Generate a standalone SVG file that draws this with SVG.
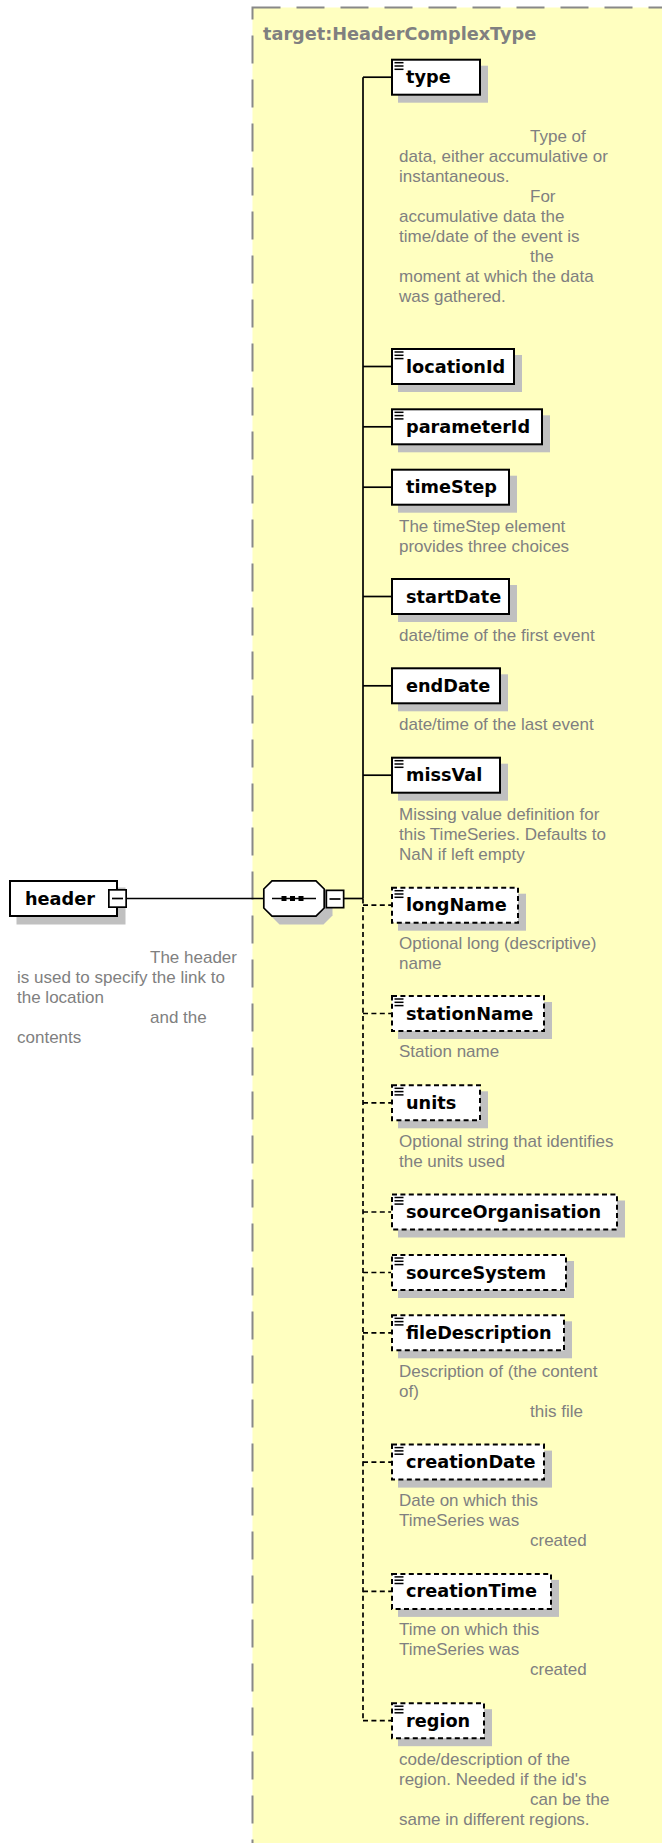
<svg xmlns="http://www.w3.org/2000/svg" xmlns:xlink="http://www.w3.org/1999/xlink" width="662" height="1843" viewBox="0 0 662 1843">
  <style>
    .frame{fill:#FFFFC0;stroke:#888888;stroke-width:2;stroke-dasharray:28 16}
    .title{font-family:"DejaVu Sans",Verdana,sans-serif;font-weight:bold;font-size:17.7px;fill:#808080}
    .shadow{fill:#C0C0C0}
    .box{fill:#FFFFFF;stroke:#000000;stroke-width:2}
    .opt{stroke-dasharray:5 3.4}
    .name{font-family:"DejaVu Sans",Verdana,sans-serif;font-weight:bold;font-size:17.7px;fill:#000000}
    .doc{font-family:"Liberation Sans",Arial,sans-serif;font-size:17px;fill:#808080}
    .line{fill:none;stroke:#000000;stroke-width:1.7}
    .dash{stroke-dasharray:5 3.4}
    .ann{stroke:#000000;stroke-width:1.5}
  </style>
  <defs>
    <!-- annotation marker in the top-left corner of documented elements -->
    <g id="ann">
      <line class="ann" x1="3.5" y1="4" x2="12.5" y2="4"/>
      <line class="ann" x1="3.5" y1="7.3" x2="12.5" y2="7.3"/>
      <line class="ann" x1="3.5" y1="10.6" x2="12.5" y2="10.6"/>
    </g>
    <!-- collapse button -->
    <g id="minus">
      <rect x="0.85" y="0.85" width="17.3" height="17.3" fill="#FFFFFF" stroke="#000000" stroke-width="1.7"/>
      <line x1="4" y1="9.5" x2="15" y2="9.5" stroke="#000000" stroke-width="1.7"/>
    </g>
  </defs>

  <!-- complex type frame -->
  <g id="complexType">
    <rect class="frame" x="252.5" y="7.5" width="460" height="1900"/>
    <text class="title" x="263" y="39.5">target:HeaderComplexType</text>
  </g>

  <!-- connectors -->
  <g id="connectors">
    <path class="line" d="M127,898.5 H263"/>
    <path class="line" d="M344,898.5 H363"/>
    <path class="line" d="M363,77.2 V898.5"/>
    <path class="line" d="M363,77.2 H391"/>
    <path class="line" d="M363,366.5 H391"/>
    <path class="line" d="M363,426.8 H391"/>
    <path class="line" d="M363,487.2 H391"/>
    <path class="line" d="M363,596.5 H391"/>
    <path class="line" d="M363,685.8 H391"/>
    <path class="line" d="M363,775.2 H391"/>
    <path class="line dash" d="M363,898.5 V1720.7"/>
    <path class="line dash" d="M363,905.2 H391"/>
    <path class="line dash" d="M363,1013.5 H391"/>
    <path class="line dash" d="M363,1102.8 H391"/>
    <path class="line dash" d="M363,1212 H391"/>
    <path class="line dash" d="M363,1272.5 H391"/>
    <path class="line dash" d="M363,1332.8 H391"/>
    <path class="line dash" d="M363,1462.1 H391"/>
    <path class="line dash" d="M363,1591.4 H391"/>
    <path class="line dash" d="M363,1720.7 H391"/>
  </g>

  <!-- root element -->
  <g id="header" transform="translate(9,880)">
    <rect class="shadow" x="7.5" y="7.5" width="109" height="37"/>
    <rect class="box" x="1" y="1" width="107" height="35"/>
    <text class="name" x="16" y="25">header</text>
    <use xlink:href="#minus" x="99" y="9"/>
    <text class="doc">
      <tspan x="141" y="82.7">The header</tspan>
      <tspan x="8" y="102.7">is used to specify the link to</tspan>
      <tspan x="8" y="122.7">the location</tspan>
      <tspan x="141" y="142.7">and the</tspan>
      <tspan x="8" y="162.7">contents</tspan>
    </text>
  </g>

  <!-- sequence compositor -->
  <g id="sequence">
    <polygon class="shadow" points="279.5,887.5 323.5,887.5 332.5,896.5 332.5,915.5 323.5,924.5 279.5,924.5 270.5,915.5 270.5,896.5"/>
    <polygon points="272,880.8 316,880.8 324.2,889 324.2,908 316,916.2 272,916.2 263.8,908 263.8,889" fill="#FFFFFF" stroke="#000000" stroke-width="1.7"/>
    <line x1="272" y1="898.5" x2="316" y2="898.5" stroke="#000000" stroke-width="1.7"/>
    <rect x="281.5" y="896" width="5" height="5" fill="#000000"/>
    <rect x="290" y="896" width="5" height="5" fill="#000000"/>
    <rect x="298.5" y="896" width="5" height="5" fill="#000000"/>
    <use xlink:href="#minus" x="325.5" y="889.5"/>
  </g>

  <!-- child elements -->
  <g id="type" transform="translate(391,58.7)">
    <rect class="shadow" x="7" y="7" width="90" height="37"/>
    <rect class="box" x="1" y="1" width="88" height="35"/>
    <use xlink:href="#ann"/>
    <text class="name" x="15" y="24.6">type</text>
    <text class="doc">
      <tspan x="139" y="83">Type of</tspan>
      <tspan x="8" y="103">data, either accumulative or</tspan>
      <tspan x="8" y="123">instantaneous.</tspan>
      <tspan x="139" y="143">For</tspan>
      <tspan x="8" y="163">accumulative data the</tspan>
      <tspan x="8" y="183">time/date of the event is</tspan>
      <tspan x="139" y="203">the</tspan>
      <tspan x="8" y="223">moment at which the data</tspan>
      <tspan x="8" y="243">was gathered.</tspan>
    </text>
  </g>

  <g id="locationId" transform="translate(391,348)">
    <rect class="shadow" x="7" y="7" width="124" height="37"/>
    <rect class="box" x="1" y="1" width="122" height="35"/>
    <use xlink:href="#ann"/>
    <text class="name" x="15" y="24.6">locationId</text>
  </g>

  <g id="parameterId" transform="translate(391,408.3)">
    <rect class="shadow" x="7" y="7" width="152" height="37"/>
    <rect class="box" x="1" y="1" width="150" height="35"/>
    <use xlink:href="#ann"/>
    <text class="name" x="15" y="24.6">parameterId</text>
  </g>

  <g id="timeStep" transform="translate(391,468.7)">
    <rect class="shadow" x="7" y="7" width="119" height="37"/>
    <rect class="box" x="1" y="1" width="117" height="35"/>
    <text class="name" x="15" y="24.6">timeStep</text>
    <text class="doc">
      <tspan x="8" y="63">The timeStep element</tspan>
      <tspan x="8" y="83">provides three choices</tspan>
    </text>
  </g>

  <g id="startDate" transform="translate(391,578)">
    <rect class="shadow" x="7" y="7" width="119" height="37"/>
    <rect class="box" x="1" y="1" width="117" height="35"/>
    <text class="name" x="15" y="24.6">startDate</text>
    <text class="doc" x="8" y="63">date/time of the first event</text>
  </g>

  <g id="endDate" transform="translate(391,667.3)">
    <rect class="shadow" x="7" y="7" width="110" height="37"/>
    <rect class="box" x="1" y="1" width="108" height="35"/>
    <text class="name" x="15" y="24.6">endDate</text>
    <text class="doc" x="8" y="63">date/time of the last event</text>
  </g>

  <g id="missVal" transform="translate(391,756.7)">
    <rect class="shadow" x="7" y="7" width="110" height="37"/>
    <rect class="box" x="1" y="1" width="108" height="35"/>
    <use xlink:href="#ann"/>
    <text class="name" x="15" y="24.6">missVal</text>
    <text class="doc">
      <tspan x="8" y="63">Missing value definition for</tspan>
      <tspan x="8" y="83">this TimeSeries. Defaults to</tspan>
      <tspan x="8" y="103">NaN if left empty</tspan>
    </text>
  </g>

  <g id="longName" transform="translate(391,886.7)">
    <rect class="shadow" x="7" y="7" width="128" height="37"/>
    <rect class="box opt" x="1" y="1" width="126" height="35"/>
    <use xlink:href="#ann"/>
    <text class="name" x="15" y="24.6">longName</text>
    <text class="doc">
      <tspan x="8" y="62">Optional long (descriptive)</tspan>
      <tspan x="8" y="82">name</tspan>
    </text>
  </g>

  <g id="stationName" transform="translate(391,995)">
    <rect class="shadow" x="7" y="7" width="154" height="37"/>
    <rect class="box opt" x="1" y="1" width="152" height="35"/>
    <use xlink:href="#ann"/>
    <text class="name" x="15" y="24.6">stationName</text>
    <text class="doc" x="8" y="62">Station name</text>
  </g>

  <g id="units" transform="translate(391,1084.3)">
    <rect class="shadow" x="7" y="7" width="90" height="37"/>
    <rect class="box opt" x="1" y="1" width="88" height="35"/>
    <use xlink:href="#ann"/>
    <text class="name" x="15" y="24.6">units</text>
    <text class="doc">
      <tspan x="8" y="62.5">Optional string that identifies</tspan>
      <tspan x="8" y="82.5">the units used</tspan>
    </text>
  </g>

  <g id="sourceOrganisation" transform="translate(391,1193.5)">
    <rect class="shadow" x="7" y="7" width="227" height="37"/>
    <rect class="box opt" x="1" y="1" width="225" height="35"/>
    <use xlink:href="#ann"/>
    <text class="name" x="15" y="24.6">sourceOrganisation</text>
  </g>

  <g id="sourceSystem" transform="translate(391,1254)">
    <rect class="shadow" x="7" y="7" width="176" height="37"/>
    <rect class="box opt" x="1" y="1" width="174" height="35"/>
    <use xlink:href="#ann"/>
    <text class="name" x="15" y="24.6">sourceSystem</text>
  </g>

  <g id="fileDescription" transform="translate(391,1314.3)">
    <rect class="shadow" x="7" y="7" width="174" height="37"/>
    <rect class="box opt" x="1" y="1" width="172" height="35"/>
    <use xlink:href="#ann"/>
    <text class="name" x="15" y="24.6">fileDescription</text>
    <text class="doc">
      <tspan x="8" y="62.5">Description of (the content</tspan>
      <tspan x="8" y="82.5">of)</tspan>
      <tspan x="139" y="102.5">this file</tspan>
    </text>
  </g>

  <g id="creationDate" transform="translate(391,1443.6)">
    <rect class="shadow" x="7" y="7" width="154" height="37"/>
    <rect class="box opt" x="1" y="1" width="152" height="35"/>
    <use xlink:href="#ann"/>
    <text class="name" x="15" y="24.6">creationDate</text>
    <text class="doc">
      <tspan x="8" y="62.5">Date on which this</tspan>
      <tspan x="8" y="82.5">TimeSeries was</tspan>
      <tspan x="139" y="102.5">created</tspan>
    </text>
  </g>

  <g id="creationTime" transform="translate(391,1572.9)">
    <rect class="shadow" x="7" y="7" width="161" height="37"/>
    <rect class="box opt" x="1" y="1" width="159" height="35"/>
    <use xlink:href="#ann"/>
    <text class="name" x="15" y="24.6">creationTime</text>
    <text class="doc">
      <tspan x="8" y="62.5">Time on which this</tspan>
      <tspan x="8" y="82.5">TimeSeries was</tspan>
      <tspan x="139" y="102.5">created</tspan>
    </text>
  </g>

  <g id="region" transform="translate(391,1702.2)">
    <rect class="shadow" x="7" y="7" width="94" height="37"/>
    <rect class="box opt" x="1" y="1" width="92" height="35"/>
    <use xlink:href="#ann"/>
    <text class="name" x="15" y="24.6">region</text>
    <text class="doc">
      <tspan x="8" y="62.5">code/description of the</tspan>
      <tspan x="8" y="82.5">region. Needed if the id's</tspan>
      <tspan x="139" y="102.5">can be the</tspan>
      <tspan x="8" y="122.5">same in different regions.</tspan>
    </text>
  </g>
</svg>
